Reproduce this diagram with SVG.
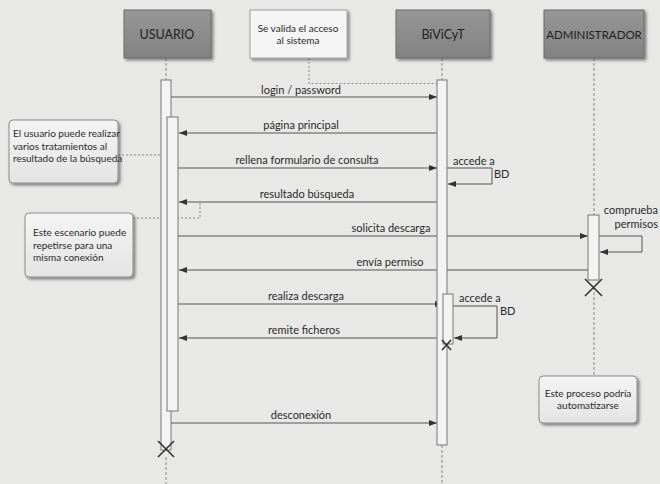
<svg xmlns="http://www.w3.org/2000/svg" width="660" height="484" viewBox="0 0 660 484">
<defs>
<linearGradient id="hdr" x1="0" y1="0" x2="0" y2="1">
<stop offset="0" stop-color="#969696"/><stop offset="1" stop-color="#828282"/>
</linearGradient>
<linearGradient id="note" x1="0" y1="0" x2="0" y2="1">
<stop offset="0" stop-color="#f4f4f4"/><stop offset="1" stop-color="#e4e4e4"/>
</linearGradient>
<filter id="sh" x="-10%" y="-10%" width="130%" height="140%">
<feGaussianBlur in="SourceAlpha" stdDeviation="1.5"/>
<feOffset dx="1.5" dy="2" result="b"/>
<feComponentTransfer><feFuncA type="linear" slope="0.45"/></feComponentTransfer>
<feMerge><feMergeNode/><feMergeNode in="SourceGraphic"/></feMerge>
</filter>
<marker id="ah" viewBox="0 0 8 6" refX="8" refY="3" markerWidth="8" markerHeight="6" markerUnits="userSpaceOnUse" orient="auto">
<path d="M0,0 L8,3 L0,6 z" fill="#333"/>
</marker>
</defs>
<style>
text{font-family:Lato,"Open Sans","Liberation Sans",sans-serif;fill:#2a2a2a}
.hdr{fill:url(#hdr);stroke:#6a6a6a;stroke-width:1}
.hdrt{font-size:12.5px;text-anchor:middle;fill:#222}
.lite{fill:#f5f5f5;stroke:#a0a0a0;stroke-width:1}
.nt{fill:url(#note);stroke:#8a8a8a;stroke-width:1}
.ntt{font-size:10px}
.life{stroke:#8a8a8a;stroke-width:1;stroke-dasharray:3,2;fill:none}
.bar{fill:#f3f3f3;stroke:#777;stroke-width:1}
.msg{stroke:#555;stroke-width:1;fill:none;marker-end:url(#ah)}
.dash{stroke:#8a8a8a;stroke-width:1;stroke-dasharray:2,2;fill:none}
.lbl{font-size:11px;text-anchor:middle}
.lbll{font-size:11px}
.x{stroke:#333;stroke-width:1.6;fill:none}
</style>
<rect width="660" height="484" fill="#e8e8e6"/>

<g id="connectors">
<path class="dash" d="M309,58 V83.5 H437"/>
<path class="dash" d="M118,155 H167"/>
<path class="dash" d="M133,218 H200 V203"/>
<path class="life" d="M594,287 V376"/>
<line class="msg" x1="171" y1="97" x2="437" y2="97"/>
<text class="lbl" x="301" y="94">login / password</text>
<line class="msg" x1="437" y1="133" x2="179" y2="133"/>
<text class="lbl" x="301" y="129">página principal</text>
<line class="msg" x1="178" y1="168" x2="437" y2="168"/>
<text class="lbl" x="307" y="164">rellena formulario de consulta</text>
<path class="msg" d="M447,168 H492 V184 H448"/>
<text class="lbll" x="453" y="165">accede a</text>
<text class="lbll" x="494" y="178">BD</text>
<line class="msg" x1="437" y1="202" x2="179" y2="202"/>
<text class="lbl" x="307" y="198">resultado búsqueda</text>
<line class="msg" x1="178" y1="236" x2="588" y2="236"/>
<text class="lbl" x="391" y="232">solicita descarga</text>
<path class="msg" d="M599,236 H642 V252 H600"/>
<text class="lbll" x="658" y="214" text-anchor="end">comprueba</text>
<text class="lbll" x="658" y="228" text-anchor="end">permisos</text>
<line class="msg" x1="588" y1="270" x2="179" y2="270"/>
<text class="lbl" x="390" y="266">envía permiso</text>
<line class="msg" x1="178" y1="304" x2="443" y2="304"/>
<text class="lbl" x="306" y="300">realiza descarga</text>
<path class="msg" d="M453,306 H497 V338 H454"/>
<text class="lbll" x="459" y="302">accede a</text>
<text class="lbll" x="500" y="315">BD</text>
<line class="msg" x1="443" y1="338" x2="179" y2="338"/>
<text class="lbl" x="304" y="334">remite ficheros</text>
<line class="msg" x1="171" y1="423" x2="437" y2="423"/>
<text class="lbl" x="301" y="419">desconexión</text>
</g>

<g id="usuario">
<path class="life" d="M166,58 V80 M166,457 V484"/>
<rect class="hdr" x="124" y="10" width="87" height="48" filter="url(#sh)"/>
<text class="hdrt" x="167" y="39">USUARIO</text>
<rect class="bar" x="161" y="80" width="10" height="370"/>
<rect class="bar" x="167" y="117" width="11" height="294"/>
<path class="x" d="M158,441 L174,457 M174,441 L158,457"/>
</g>

<g id="valida">
<rect class="lite" x="250" y="10" width="97" height="48" filter="url(#sh)"/>
<text class="ntt" x="298" y="32" text-anchor="middle">Se valida el acceso</text>
<text class="ntt" x="298" y="44" text-anchor="middle">al sistema</text>
</g>

<g id="bivicyt">
<path class="life" d="M442,58 V80 M442,445 V484"/>
<rect class="hdr" x="396" y="10" width="94" height="48" filter="url(#sh)"/>
<text class="hdrt" x="443" y="39">BiViCyT</text>
<rect class="bar" x="437" y="80" width="10" height="365"/>
<rect class="bar" x="443" y="294" width="10" height="50"/>
<path class="x" d="M442,340 L451,350 M451,340 L442,350"/>
</g>

<g id="administrador">
<path class="life" d="M594,58 V215"/>
<rect class="hdr" x="544" y="10" width="100" height="48" filter="url(#sh)"/>
<text class="hdrt" x="594" y="39" style="font-size:11.5px">ADMINISTRADOR</text>
<rect class="bar" x="588" y="215" width="11" height="65"/>
<path class="x" d="M585,279 L602,296 M602,279 L585,296"/>
</g>

<g id="nota-usuario">
<rect class="nt" x="9" y="120" width="109" height="63" rx="4" filter="url(#sh)"/>
<text class="ntt" x="13" y="137">El usuario puede realizar</text>
<text class="ntt" x="13" y="149.5">varios tratamientos al</text>
<text class="ntt" x="13" y="162">resultado de la búsqueda</text>
</g>

<g id="nota-escenario">
<rect class="nt" x="25" y="213" width="108" height="64" rx="4" filter="url(#sh)"/>
<text class="ntt" x="33" y="236">Este escenario puede</text>
<text class="ntt" x="33" y="248.5">repetirse para una</text>
<text class="ntt" x="33" y="261">misma conexión</text>
</g>

<g id="nota-proceso">
<rect class="nt" x="539" y="376" width="98" height="47" rx="4" filter="url(#sh)"/>
<text class="ntt" x="588" y="397" text-anchor="middle">Este proceso podría</text>
<text class="ntt" x="588" y="409" text-anchor="middle">automatizarse</text>
</g>
</svg>
